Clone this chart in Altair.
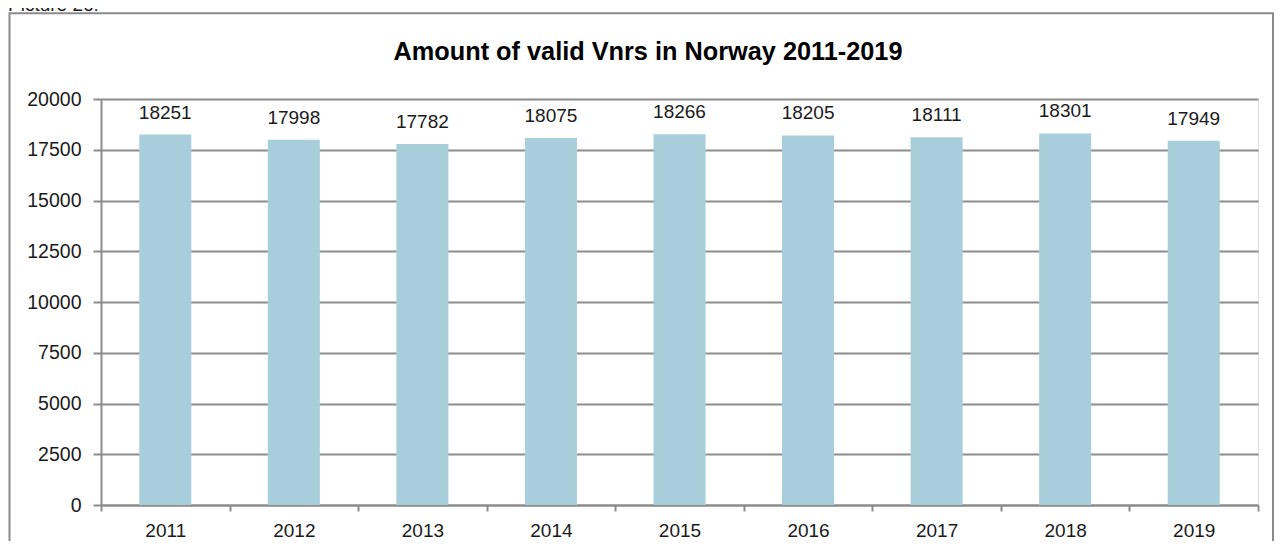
import altair as alt
import pandas as pd

years = ["2011", "2012", "2013", "2014", "2015", "2016", "2017", "2018", "2019"]
values = [18251, 17998, 17782, 18075, 18266, 18205, 18111, 18301, 17949]
y_ticks = [0, 2500, 5000, 7500, 10000, 12500, 15000, 17500, 20000]
title_text = "Amount of valid Vnrs in Norway 2011-2019"
caption_text = "Picture 26:"

df = pd.DataFrame({"year": years, "value": values})
one = pd.DataFrame({"k": [0]})

W, H = 1157, 406
PAD_L, PAD_T, PAD_R, PAD_B = 93, 91, 17, 36
FONT = "Liberation Sans"
GRID = "#8c8c8c"
TEXT = "#1a1a1a"
BAR = "#a9cedb"

x_enc = alt.X(
    "year:N",
    sort=years,
    scale=alt.Scale(paddingInner=0, paddingOuter=0),
    axis=alt.Axis(
        title=None, labelAngle=0, tickBand="extent", grid=False,
        domainColor=GRID, domainWidth=2, tickColor=GRID, tickWidth=2, tickSize=6,
        labelFont=FONT, labelFontSize=19, labelColor=TEXT, labelPadding=10,
    ),
)
y_enc = alt.Y(
    "value:Q",
    scale=alt.Scale(domain=[0, 20000]),
    axis=alt.Axis(
        title=None, values=y_ticks, format="d",
        grid=True, gridColor=GRID, gridWidth=2,
        domainColor=GRID, domainWidth=2, tickColor=GRID, tickWidth=2, tickSize=8,
        labelFont=FONT, labelFontSize=19.5, labelColor=TEXT, labelPadding=12,
    ),
)

bars = alt.Chart(df).mark_bar(width=alt.RelativeBandSize(0.405), color=BAR).encode(
    x=x_enc, y=y_enc
)
labels = alt.Chart(df).mark_text(
    dy=-22, baseline="middle", align="center", font=FONT, fontSize=19, color=TEXT
).encode(x=alt.X("year:N", sort=years), y="value:Q", text="value:Q")

border = alt.Chart(one).mark_rect(
    fillOpacity=0, stroke="#8a8a8a", strokeWidth=2
).encode(
    x=alt.value(-91.5), x2=alt.value(1172), y=alt.value(-85.7), y2=alt.value(470)
)
caption = alt.Chart(one).mark_text(
    align="left", baseline="alphabetic", font=FONT, fontSize=19, color=TEXT, text=caption_text
).encode(x=alt.value(-93), y=alt.value(-88))
title = alt.Chart(one).mark_text(
    align="center", baseline="alphabetic", font=FONT, fontSize=25.3, fontWeight="bold",
    color="#000000", text=title_text
).encode(x=alt.value(547), y=alt.value(-39))

chart = alt.layer(border, caption, title, bars, labels).properties(
    width=W, height=H,
    autosize=alt.AutoSizeParams(type="none"),
    padding={"left": PAD_L, "top": PAD_T, "right": PAD_R, "bottom": PAD_B},
).configure_view(stroke=None).configure(background="white")

chart.save("out.html", embed_options={"renderer": "svg", "actions": False})
